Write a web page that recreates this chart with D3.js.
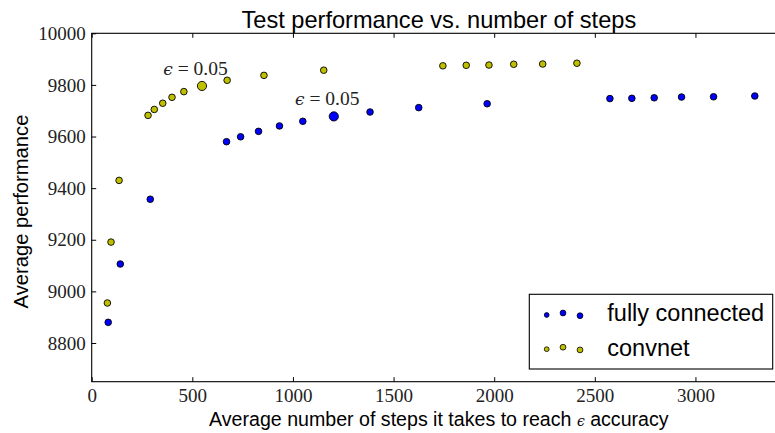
<!DOCTYPE html>
<html>
<head>
<meta charset="utf-8">
<script src="https://cdn.jsdelivr.net/npm/d3@7/dist/d3.min.js"></script>
<style>
  html, body { margin: 0; padding: 0; background: #fff; }
  svg { display: block; }
  .serif { font-family: "Liberation Serif", "DejaVu Serif", serif; }
  .sans { font-family: "Liberation Sans", Arial, sans-serif; }
</style>
</head>
<body>
<svg id="chart" width="775" height="433"></svg>
<script>
// Fully connected network: average steps to reach accuracy vs. test performance
const fcSteps = [82, 142, 291, 670, 740, 829, 933, 1049, 1203, 1383, 1625, 1965, 2575, 2684, 2795, 2931, 3090, 3295];
const fcPerf  = [8880, 9106, 9357, 9580, 9599, 9620, 9641, 9659, 9678, 9695, 9712, 9727, 9747, 9748, 9750, 9753, 9754, 9757];

// Convolutional network
const cnSteps = [78, 96, 136, 280, 311, 353, 399, 458, 548, 673, 856, 1153, 1745, 1861, 1974, 2097, 2241, 2411];
const cnPerf  = [8955, 9191, 9430, 9682, 9705, 9729, 9752, 9774, 9796, 9818, 9837, 9857, 9874, 9876, 9877, 9880, 9881, 9884];

// Index of the run at epsilon = 0.05 in each series
const highlightIndex = 8;
const highlightLabel = "0.05";

const seriesNames = ["fully connected", "convnet"];
const xTicks = [0, 500, 1000, 1500, 2000, 2500, 3000];
const yTicks = [8800, 9000, 9200, 9400, 9600, 9800, 10000];

const colors = ["#0000ff", "#bfbf00"];

const svg = d3.select("#chart");
const plotLeft = 91.7, plotTop = 33.3, plotRight = 786, plotBottom = 381.7;

const x = d3.scaleLinear().domain([0, 3450]).range([plotLeft, plotRight]);
const y = d3.scaleLinear().domain([8650, 10000]).range([plotBottom, plotTop]);

// Points
const series = [
  { name: seriesNames[0], steps: fcSteps, perf: fcPerf, color: colors[0] },
  { name: seriesNames[1], steps: cnSteps, perf: cnPerf, color: colors[1] }
];

const plot = svg.append("g");
series.forEach(s => {
  const pts = s.steps.map((v, i) => ({ x: v, y: s.perf[i], big: i === highlightIndex }));
  plot.selectAll(null)
    .data(pts)
    .enter().append("circle")
    .attr("cx", d => x(d.x))
    .attr("cy", d => y(d.y))
    .attr("r", d => d.big ? 4.6 : 3.3)
    .attr("fill", s.color)
    .attr("stroke", "#000")
    .attr("stroke-width", 0.9);

  // epsilon annotation above the highlighted run
  const h = pts[highlightIndex];
  const t = plot.append("text")
    .attr("class", "serif")
    .attr("x", x(h.x) - 6.5)
    .attr("y", y(h.y) - 11)
    .attr("text-anchor", "middle")
    .attr("font-size", 19.5)
    .attr("fill", "#222");
  t.append("tspan").attr("font-style", "italic").attr("font-family", "DejaVu Serif").attr("font-size", 17).text("\u03F5");
  t.append("tspan").text(" = " + highlightLabel);
});

// Frame
svg.append("rect")
  .attr("x", plotLeft).attr("y", plotTop)
  .attr("width", plotRight - plotLeft).attr("height", plotBottom - plotTop)
  .attr("fill", "none").attr("stroke", "#000").attr("stroke-width", 1.1);

// Axes with inward ticks
const xAxisB = d3.axisBottom(x).tickValues(xTicks).tickSize(-4.5).tickPadding(6.5).tickFormat(d3.format("d"));
const xAxisT = d3.axisTop(x).tickValues(xTicks).tickSize(-4.5).tickFormat("");
const yAxisL = d3.axisLeft(y).tickValues(yTicks).tickSize(-4.5).tickPadding(6).tickFormat(d3.format("d"));

function style(g) {
  g.attr("font-family", null).attr("font-size", null);
  g.select(".domain").remove();
  g.selectAll(".tick line").attr("stroke", "#000").attr("stroke-width", 1);
  g.selectAll(".tick text")
    .attr("class", "serif")
    .attr("font-size", 19)
    .attr("fill", "#222");
}
svg.append("g").attr("transform", `translate(0,${plotBottom})`).call(xAxisB).call(style);
svg.append("g").attr("transform", `translate(0,${plotTop})`).call(xAxisT).call(style);
svg.append("g").attr("transform", `translate(${plotLeft},0)`).call(yAxisL).call(style);

// Title
svg.append("text")
  .attr("class", "sans")
  .attr("x", (plotLeft + plotRight) / 2)
  .attr("y", 27.5)
  .attr("text-anchor", "middle")
  .attr("font-size", 23.6)
  .attr("fill", "#000")
  .text("Test performance vs. number of steps");

// X label
const xl = svg.append("text")
  .attr("class", "sans")
  .attr("x", (plotLeft + plotRight) / 2)
  .attr("y", 425.5)
  .attr("text-anchor", "middle")
  .attr("font-size", 19.6)
  .attr("fill", "#000");
xl.append("tspan").text("Average number of steps it takes to reach ");
xl.append("tspan").attr("font-family", "DejaVu Serif").attr("font-style", "italic").attr("font-size", 14).text("\u03F5");
xl.append("tspan").text(" accuracy");

// Y label
svg.append("text")
  .attr("class", "sans")
  .attr("transform", `translate(28,${(plotTop + plotBottom) / 2 + 4}) rotate(-90)`)
  .attr("text-anchor", "middle")
  .attr("font-size", 20.2)
  .attr("fill", "#000")
  .text("Average performance");

// Legend
const lg = svg.append("g");
lg.append("rect")
  .attr("x", 529.3).attr("y", 294.3)
  .attr("width", 243.4).attr("height", 74.7)
  .attr("fill", "#fff").attr("stroke", "#000").attr("stroke-width", 1.1);

const legendDots = [
  { dx: 0, dy: 0.7, r: 2.4 },
  { dx: 16.3, dy: -1.3, r: 2.9 },
  { dx: 33.3, dy: 1.4, r: 2.9 }
];
series.forEach((s, i) => {
  const cy = 314.3 + i * 34.2;
  lg.selectAll(null)
    .data(legendDots)
    .enter().append("circle")
    .attr("cx", d => 546.7 + d.dx)
    .attr("cy", d => cy + d.dy)
    .attr("r", d => d.r)
    .attr("fill", s.color)
    .attr("stroke", "#000")
    .attr("stroke-width", 0.8);
  lg.append("text")
    .attr("class", "sans")
    .attr("x", 607.3)
    .attr("y", 321 + i * 34.6)
    .attr("font-size", 23.5)
    .attr("fill", "#000")
    .text(s.name);
});
</script>
</body>
</html>
